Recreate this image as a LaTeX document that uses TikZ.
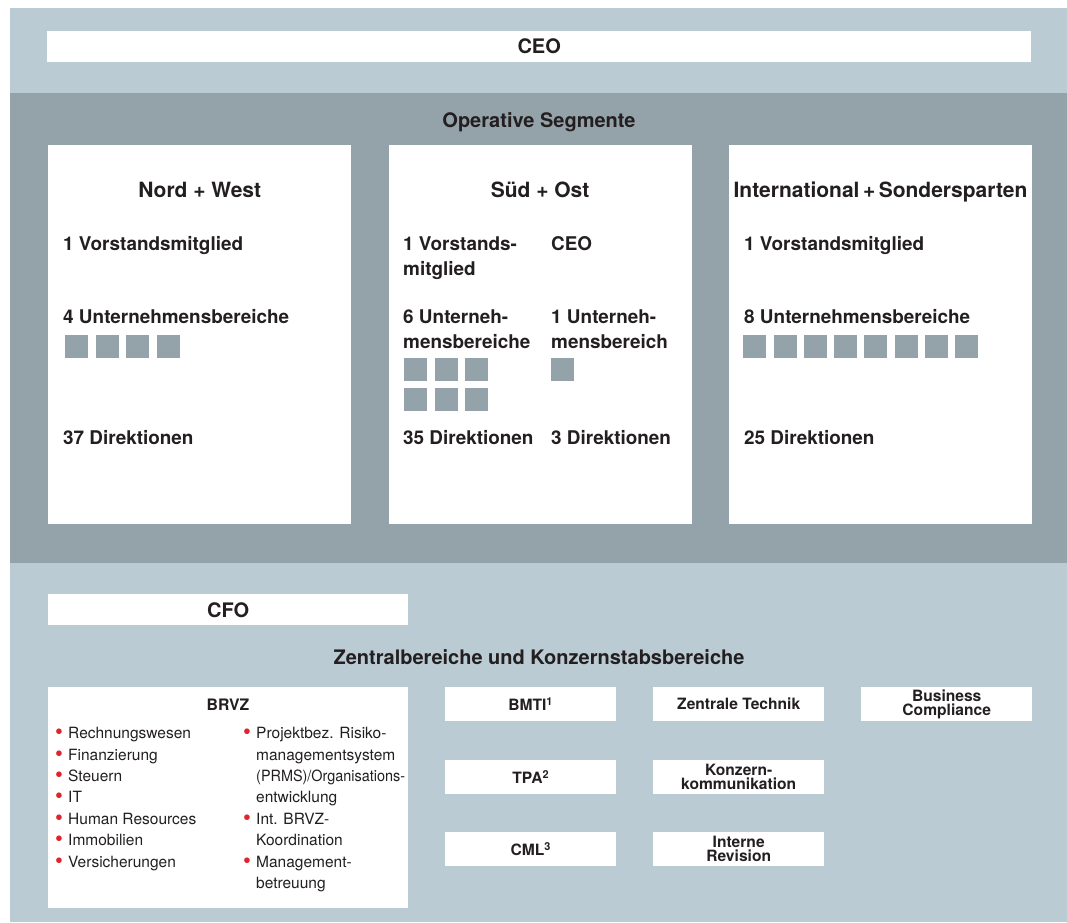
\documentclass[tikz,border=0pt]{standalone}
\usepackage{fontspec}
\setmainfont{TeX Gyre Heros}
\usepackage{xcolor}
\usepackage{graphicx}
\usetikzlibrary{positioning}
\definecolor{bandlight}{RGB}{186,203,211}
\definecolor{banddark}{RGB}{148,163,170}
\definecolor{txt}{RGB}{35,31,32}
\definecolor{dotred}{RGB}{226,35,45}
\newcommand{\twoline}[2]{\begin{tabular}[t]{@{}l@{}}#1\\#2\end{tabular}}
\newcommand{\bul}{\makebox[13pt][l]{\color{dotred}\raisebox{-1pt}{\scalebox{1.45}{\textbullet}}}}

\begin{document}
\begin{tikzpicture}[x=1pt,y=-1pt,
  box/.style={fill=white,inner sep=0pt,anchor=north west},
  segbox/.style={box,minimum width=303,minimum height=379},
  smbox/.style={box,minimum width=171,minimum height=34,align=center,text=txt,
    font=\fontsize{15.6}{13.8}\selectfont\bfseries},
  sq/.style={fill=banddark,inner sep=0pt,minimum size=23,anchor=north west},
  head/.style={text=txt,anchor=base,inner sep=0pt,font=\fontsize{20}{24}\selectfont\bfseries},
  seghead/.style={head,font=\fontsize{21}{24}\selectfont\bfseries},
  lbl/.style={text=txt,anchor=base west,inner sep=0pt,font=\fontsize{18.9}{25}\selectfont\bfseries},
  lst/.style={text=txt,anchor=north west,inner sep=0pt,font=\fontsize{15.5}{21.4}\selectfont}]
  \useasboundingbox (0,0) rectangle (1067,922);
  % bands
  \fill[bandlight] (10,8) rectangle (1067,922);
  \fill[banddark] (10,93) rectangle (1067,563);

  % top
  \node[box,minimum width=984,minimum height=31,text=txt,
    font=\fontsize{20}{24}\selectfont\bfseries] (ceo) at (47,31) {CEO};
  \node[head] (ops) at (539,127) {Operative Segmente};

  % segments
  \node[segbox] (nw) at (48,145) {};
  \node[segbox] (so) [right=37pt of nw] {};
  \node[segbox] (intl) [right=37pt of so] {};
  \node[seghead] (nwT) at ([yshift=-52pt]nw.north) {Nord + West};
  \node[seghead] (soT) at ([yshift=-52pt]so.north) {Süd + Ost};
  \node[seghead] (intlT) at ([yshift=-52pt]intl.north) {International\,+\,Sondersparten};

  \node[lbl] (nwV) at (63,250) {1 Vorstandsmitglied};
  \node[lbl] (nwU) at (63,323) {4 Unternehmensbereiche};
  \node[lbl] (nwD) at (63,444) {37 Direktionen};
  \foreach \i in {0,...,3}
    \node[sq] (nwq\i) at ({65+30.5*\i},335) {};

  \node[lbl] (soV) at (403,250) {\twoline{1 Vorstands-}{mitglied}};
  \node[lbl] (soC) at (551,250) {CEO};
  \node[lbl] (soU) at (403,323) {\twoline{6 Unterneh-}{mensbereiche}};
  \node[lbl] (soU2) at (551,323) {\twoline{1 Unterneh-}{mensbereich}};
  \node[lbl] (soD) at (403,444) {35 Direktionen};
  \node[lbl] (soD2) at (551,444) {3 Direktionen};
  \foreach \i in {0,1,2} {
    \node[sq] (soqa\i) at ({404+30.5*\i},358) {};
    \node[sq] (soqb\i) at ({404+30.5*\i},388) {};
  }
  \node[sq] (soqc) at (551,358) {};

  \node[lbl] (intlV) at (744,250) {1 Vorstandsmitglied};
  \node[lbl] (intlU) at (744,323) {8 Unternehmensbereiche};
  \node[lbl] (intlD) at (744,444) {25 Direktionen};
  \foreach \i in {0,...,7}
    \node[sq] (intlq\i) at ({743+30.3*\i},335) {};

  % central functions
  \node[box,minimum width=360,minimum height=31,text=txt,
    font=\fontsize{20}{24}\selectfont\bfseries] (cfo) at (48,594) {CFO};
  \node[head] (zb) at (539,664) {Zentralbereiche und Konzernstabsbereiche};

  \node[box,minimum width=360,minimum height=221] (brvz) at (48,687) {};
  \node[text=txt,anchor=base,inner sep=0pt,font=\fontsize{15.8}{18}\selectfont\bfseries]
    (brvzT) at (228,710.5) {BRVZ};
  \node[lst] (brvzL) at (55,723.5) {\begin{tabular}{@{}l@{}}
    \bul Rechnungswesen\\
    \bul Finanzierung\\
    \bul Steuern\\
    \bul IT\\
    \bul Human Resources\\
    \bul Immobilien\\
    \bul Versicherungen
  \end{tabular}};
  \node[lst] (brvzR) at (243,723.5) {\begin{tabular}{@{}l@{}}
    \bul Projektbez. Risiko-\\
    \hspace{13pt}managementsystem\\
    \hspace{13pt}\scalebox{0.93}[1]{(PRMS)/Organisations-}\\
    \hspace{13pt}entwicklung\\
    \bul Int. BRVZ-\\
    \hspace{13pt}Koordination\\
    \bul Management-\\
    \hspace{13pt}betreuung
  \end{tabular}};

  \node[smbox] (bmti) at (445,687) {BMTI\textsuperscript{1}};
  \node[smbox] (tpa) at (445,760) {TPA\textsuperscript{2}};
  \node[smbox] (cml) at (445,832) {CML\textsuperscript{3}};
  \node[smbox] (zt) at (653,687) {Zentrale Technik};
  \node[smbox] (kk) at (653,760) {Konzern-\\kommunikation};
  \node[smbox] (ir) at (653,832) {Interne\\Revision};
  \node[smbox] (bc) at (861,687) {Business\\Compliance};
\end{tikzpicture}
\end{document}
